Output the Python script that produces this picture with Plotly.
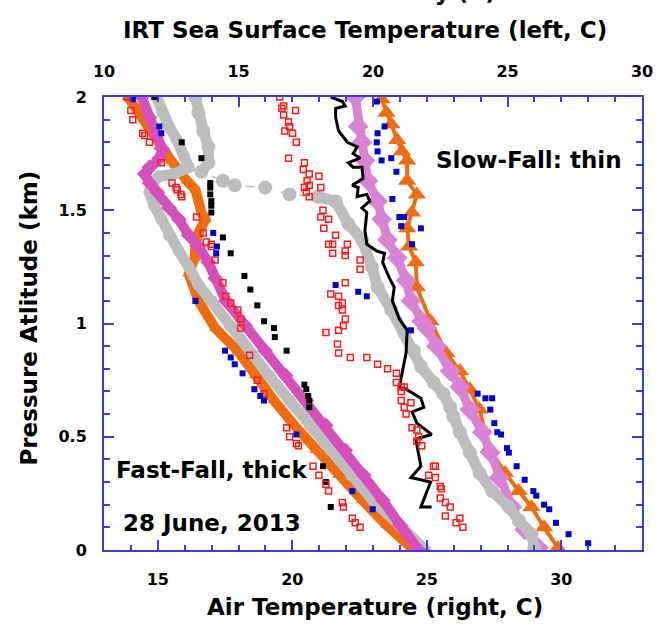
import plotly.graph_objects as go

# ---------------- Left group: IRT (top axis), fast-fall / thick ----------------
l_orange_x = [10.89, 11.33, 12.06, 12.49, 13.08, 13.40, 13.62, 13.77, 13.51, 13.40, 13.37, 13.15,
              13.51, 14.13, 14.97, 15.62, 16.32, 17.08, 17.88, 18.72, 19.60, 20.50, 21.52]
l_orange_y = [2.00, 1.92, 1.78, 1.72, 1.63, 1.59, 1.49, 1.46, 1.40, 1.35, 1.29, 1.22,
              1.10, 0.98, 0.88, 0.77, 0.66, 0.55, 0.44, 0.33, 0.22, 0.11, 0.00]

l_gray_x = [11.95, 12.17, 12.42, 12.71, 12.97, 13.15, 12.60, 12.06, 11.77, 11.69, 11.87, 12.13, 12.42,
            12.78, 13.15, 13.51, 13.99, 14.68, 15.41, 16.13, 16.90, 17.66, 18.43, 19.19, 19.99, 20.98, 21.94]
l_gray_y = [2.00, 1.93, 1.87, 1.81, 1.74, 1.69, 1.66, 1.65, 1.62, 1.58, 1.52, 1.46, 1.39,
            1.32, 1.25, 1.17, 1.10, 0.99, 0.88, 0.77, 0.66, 0.55, 0.44, 0.33, 0.22, 0.11, 0.00]

l_magenta_x = [11.40, 11.69, 11.95, 12.17, 12.06, 11.69, 11.51, 11.69, 11.98, 12.42, 12.78, 13.15, 13.51,
               13.88, 14.13, 14.53, 15.26, 15.99, 16.75, 17.52, 18.25, 18.97, 19.66, 20.36, 21.01, 21.70]
l_magenta_y = [2.00, 1.91, 1.83, 1.77, 1.73, 1.69, 1.66, 1.62, 1.58, 1.51, 1.46, 1.39, 1.34,
               1.27, 1.20, 1.10, 0.99, 0.88, 0.77, 0.66, 0.55, 0.44, 0.33, 0.22, 0.11, 0.00]

l_black_x = [11.87, 12.89, 13.62, 13.95, 13.95, 13.95, 13.99, 13.99, 13.99, 14.42, 14.71, 15.22, 15.44,
             15.70, 15.95, 16.32, 16.35, 16.79, 17.45, 17.52, 17.59, 17.63, 17.63, 18.14, 18.25, 18.43]
l_black_y = [2.00, 1.80, 1.73, 1.62, 1.60, 1.57, 1.54, 1.52, 1.49, 1.38, 1.31, 1.21, 1.15,
             1.08, 1.01, 0.98, 0.94, 0.88, 0.73, 0.71, 0.68, 0.66, 0.63, 0.37, 0.30, 0.19]

l_red_x = [10.86, 11.00, 11.07, 11.44, 11.51, 11.69, 12.13, 12.53, 12.68, 12.72, 12.86, 12.89, 13.44,
           13.69, 13.80, 13.99, 13.99, 14.13, 14.42, 14.53, 14.71, 14.97, 15.08, 15.08, 15.41, 15.70,
           15.95, 16.79, 16.90, 17.15, 17.23, 17.77, 17.99, 18.25, 18.35, 18.86, 18.90, 19.23, 19.34, 19.52]
l_red_y = [2.00, 1.94, 1.90, 1.84, 1.83, 1.80, 1.71, 1.62, 1.60, 1.59, 1.57, 1.56, 1.47,
           1.40, 1.36, 1.35, 1.34, 1.28, 1.18, 1.12, 1.09, 1.06, 1.02, 0.98, 0.86, 0.75,
           0.69, 0.54, 0.50, 0.47, 0.46, 0.37, 0.33, 0.29, 0.26, 0.21, 0.19, 0.14, 0.12, 0.10]

l_blue_x = [11.07, 12.06, 12.13, 14.06, 14.20, 14.17, 13.40, 14.50, 14.71, 14.86, 15.15, 15.59,
            15.81, 15.95, 17.15, 19.23, 19.99]
l_blue_y = [1.99, 1.87, 1.84, 1.40, 1.34, 1.31, 1.10, 0.88, 0.85, 0.82, 0.78, 0.71,
            0.68, 0.66, 0.51, 0.26, 0.18]

# ---------------- Right group: air temperature (bottom axis), slow-fall / thin ----------------
r_gray_x = [16.40, 16.51, 16.69, 16.88, 16.88, 16.62, 17.42, 17.86, 18.99, 19.90, 20.95, 21.61, 22.08,
            22.59, 22.96, 23.17, 23.68, 24.16, 24.52, 24.78, 25.25, 25.61, 25.87, 25.98, 26.23, 26.60,
            26.96, 27.43, 28.05, 28.42, 28.89, 29.00]
r_gray_y = [2.00, 1.93, 1.85, 1.78, 1.71, 1.67, 1.63, 1.61, 1.60, 1.57, 1.56, 1.54, 1.44,
            1.37, 1.25, 1.16, 1.06, 0.96, 0.88, 0.81, 0.74, 0.69, 0.63, 0.59, 0.52, 0.43,
            0.34, 0.26, 0.19, 0.13, 0.07, 0.01]

r_orchid_x = [22.34, 22.45, 22.59, 22.70, 22.81, 23.17, 23.32, 23.54, 23.90, 24.23, 24.41, 24.81,
              25.00, 25.36, 25.87, 26.23, 26.60, 27.07, 27.36, 27.69, 28.16, 28.64, 29.15]
r_orchid_y = [2.00, 1.87, 1.80, 1.72, 1.63, 1.54, 1.46, 1.37, 1.29, 1.19, 1.10, 1.01,
              0.98, 0.90, 0.79, 0.72, 0.62, 0.52, 0.43, 0.32, 0.19, 0.09, 0.01]

r_orange_x = [23.32, 23.50, 23.68, 23.90, 24.08, 24.27, 24.27, 24.63, 24.45, 24.27, 24.34, 24.59,
              24.63, 25.14, 25.72, 26.23, 26.60, 26.96, 27.32, 27.91, 28.42, 28.89, 29.36, 29.87]
r_orange_y = [1.99, 1.93, 1.88, 1.81, 1.76, 1.72, 1.63, 1.57, 1.49, 1.42, 1.34, 1.27,
              1.16, 1.01, 0.87, 0.79, 0.71, 0.62, 0.45, 0.34, 0.26, 0.19, 0.10, 0.01]

r_black_x = [21.43, 21.86, 21.97, 21.61, 21.61, 21.72, 22.05, 22.41, 22.26, 22.52, 22.08, 22.26, 22.59,
             22.63, 22.23, 22.45, 22.41, 22.77, 22.88, 22.59, 22.77, 22.70, 22.77, 23.14, 23.43, 23.36,
             23.61, 23.79, 23.72, 23.98, 24.27, 24.23, 23.98, 24.23, 24.78, 24.89, 24.45, 24.63, 25.18,
             24.59, 24.78, 24.41, 25.14, 24.78, 25.18]
r_black_y = [2.00, 1.98, 1.96, 1.95, 1.91, 1.85, 1.80, 1.78, 1.75, 1.73, 1.71, 1.69, 1.69,
             1.64, 1.61, 1.60, 1.56, 1.57, 1.54, 1.51, 1.49, 1.41, 1.35, 1.32, 1.31, 1.27,
             1.20, 1.16, 1.10, 1.02, 0.97, 0.87, 0.72, 0.71, 0.67, 0.63, 0.61, 0.56, 0.51,
             0.49, 0.37, 0.32, 0.30, 0.19, 0.19]

r_red_x = [19.53, 19.68, 19.61, 20.12, 19.68, 19.86, 19.90, 19.72, 20.01, 20.15, 19.86, 20.45, 20.41,
           20.63, 20.99, 20.55, 20.63, 20.45, 21.06, 20.52, 20.63, 21.14, 21.06, 21.35, 21.17, 21.61,
           21.50, 21.35, 21.50, 22.05, 21.97, 21.97, 22.52, 22.52, 21.97, 21.43, 21.72, 21.86, 21.72,
           21.86, 21.97, 21.90, 21.72, 21.25, 21.68, 21.72, 22.16, 22.77, 23.17, 23.54, 23.87, 23.87,
           24.05, 24.16, 24.05, 24.05, 24.41, 24.16, 24.23, 24.45, 24.63, 24.70, 24.63, 24.81, 25.25,
           25.32, 25.07, 25.32, 25.50, 25.54, 25.50, 25.69, 25.87, 25.69, 26.23, 26.09, 26.34]
r_red_y = [2.00, 1.96, 1.95, 1.94, 1.92, 1.89, 1.87, 1.85, 1.84, 1.80, 1.73, 1.71, 1.68,
           1.66, 1.65, 1.63, 1.61, 1.60, 1.60, 1.58, 1.56, 1.50, 1.47, 1.46, 1.42, 1.39,
           1.35, 1.35, 1.31, 1.35, 1.32, 1.30, 1.28, 1.24, 1.18, 1.13, 1.12, 1.09, 1.08,
           1.06, 1.02, 0.99, 0.97, 0.96, 0.91, 0.87, 0.85, 0.85, 0.82, 0.80, 0.78, 0.74,
           0.72, 0.72, 0.70, 0.66, 0.65, 0.63, 0.60, 0.54, 0.53, 0.50, 0.48, 0.46, 0.37,
           0.37, 0.33, 0.32, 0.28, 0.27, 0.23, 0.21, 0.19, 0.15, 0.14, 0.12, 0.10]

r_blue_x = [23.14, 23.43, 23.17, 23.14, 23.17, 23.32, 23.68, 23.87, 23.72, 23.98, 24.16, 24.05, 24.78,
            24.45, 21.61, 22.45, 22.77, 24.41, 26.89, 27.18, 27.43, 27.36, 27.51, 27.62, 27.76, 27.98,
            28.05, 28.34, 28.64, 28.96, 29.07, 29.36, 29.55, 29.80, 30.27, 31.00]
r_blue_y = [1.98, 1.87, 1.84, 1.80, 1.76, 1.72, 1.73, 1.67, 1.55, 1.47, 1.47, 1.43, 1.42,
            1.35, 1.17, 1.14, 1.12, 0.97, 0.69, 0.67, 0.67, 0.62, 0.56, 0.52, 0.51, 0.45,
            0.43, 0.37, 0.31, 0.26, 0.24, 0.20, 0.18, 0.12, 0.07, 0.03]

# tick values
x_bottom_ticks = [15, 20, 25, 30]
x_top_ticks = [10, 15, 20, 25, 30]
y_ticks = [0, 0.5, 1, 1.5, 2]

ORANGE = "#ef6d12"
MAGENTA = "#d550bb"
ORCHID = "#da82d5"
GRAY = "#bdbdbd"
BLUE = "#0000cc"
RED = "#ff1a1a"
AXIS = "#3c3cdc"
FONT = "DejaVu Sans"

fig = go.Figure()

def add(x, y, xa, mode, color, symbol=None, size=None, width=None, dash=None, line_w=0):
    t = dict(x=x, y=y, xaxis=xa, yaxis="y", mode=mode, showlegend=False, hoverinfo="skip")
    if "markers" in mode:
        t["marker"] = dict(symbol=symbol, size=size, color=color, line=dict(width=line_w, color=color))
    if "lines" in mode:
        t["line"] = dict(color=color, width=width, dash=dash)
    fig.add_trace(go.Scatter(**t))

# left (thick) bands on top axis
add(l_orange_x, l_orange_y, "x2", "lines+markers", ORANGE, "triangle-up", 11, 10)
add(l_gray_x, l_gray_y, "x2", "lines+markers", GRAY, "circle", 12, 11)
add(l_magenta_x, l_magenta_y, "x2", "lines+markers", MAGENTA, "diamond", 12, 10)

# right (thin) profiles on bottom axis
add(r_orange_x, r_orange_y, "x", "lines+markers", ORANGE, "triangle-up", 16, 4)
add(r_orchid_x, r_orchid_y, "x", "lines+markers", ORCHID, "diamond", 16, 9)
add(r_gray_x[:6], r_gray_y[:6], "x", "lines", GRAY, width=11)
add(r_gray_x[10:], r_gray_y[10:], "x", "lines", GRAY, width=11)
add(r_gray_x, r_gray_y, "x", "lines+markers", GRAY, "circle", 14, 1.5, "dash")
add(r_black_x, r_black_y, "x", "lines", "black", width=3)

# point series
add(l_black_x, l_black_y, "x2", "markers", "black", "square", 6)
add(l_red_x, l_red_y, "x2", "markers", RED, "square-open", 6, line_w=1.5)
add(r_red_x, r_red_y, "x", "markers", RED, "square-open", 6, line_w=1.5)
add(l_blue_x, l_blue_y, "x2", "markers", BLUE, "square", 6)
add(r_blue_x, r_blue_y, "x", "markers", BLUE, "square", 6)

tickfont = dict(family=FONT, size=16, color="black", weight="bold")
common = dict(showline=True, linecolor=AXIS, linewidth=2, ticks="inside", tickcolor=AXIS,
              tickwidth=2, ticklen=10, showgrid=False, zeroline=False, tickfont=tickfont)

fig.update_layout(
    width=665, height=630,
    margin=dict(l=104, r=12, t=97, b=80),
    paper_bgcolor="white", plot_bgcolor="white",
    xaxis=dict(range=[13, 33], tickvals=x_bottom_ticks, side="bottom",
               minor=dict(dtick=1, tick0=13, ticks="inside", ticklen=5, tickcolor=AXIS, tickwidth=2, showgrid=False),
               ticklabelstandoff=14, **common),
    xaxis2=dict(range=[10, 30], tickvals=x_top_ticks, side="top", overlaying="x", anchor="y",
                minor=dict(dtick=1, tick0=10, ticks="inside", ticklen=5, tickcolor=AXIS, tickwidth=2, showgrid=False),
                ticklabelstandoff=12, **common),
    yaxis=dict(range=[0, 2], tickvals=y_ticks, ticktext=["0", "0.5", "1", "1.5", "2"], mirror="ticks",
               minor=dict(dtick=0.1, tick0=0, ticks="inside", ticklen=6, tickcolor=AXIS, tickwidth=2, showgrid=False),
               ticklabelstandoff=12, **common),
)

def ann(text, x, y, angle=0, xanchor="center"):
    fig.add_annotation(text="<b>" + text + "</b>", x=x, y=y, xref="paper", yref="paper",
                       showarrow=False, textangle=angle, xanchor=xanchor, yanchor="middle",
                       font=dict(family=FONT, size=23, color="black"))

ann("Dew Point &amp; Humidity (C)", 0.732, 1.232, xanchor="right")
ann("IRT Sea Surface Temperature (left, C)", 0.4845, 1.148)
ann("Air Temperature (right, C)", 0.5046, -0.126)
ann("Pressure Atlitude (km)", -0.1384, 0.512, angle=-90)
ann("Slow-Fall: thin", 0.7905, 0.861)
ann("Fast-Fall, thick", 0.2004, 0.177)
ann("28 June, 2013", 0.2004, 0.060)

fig.write_html("out.html")
